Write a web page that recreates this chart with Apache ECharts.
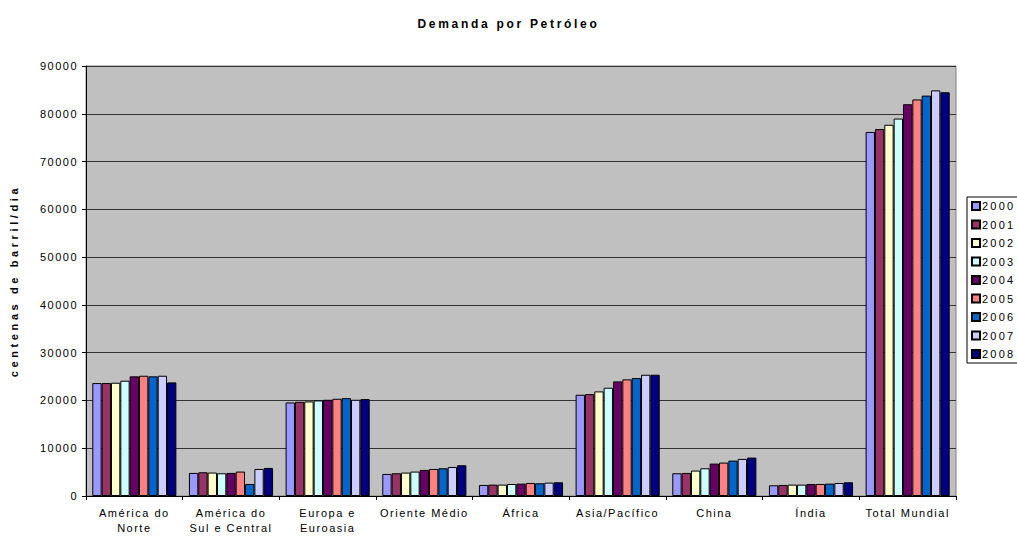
<!DOCTYPE html>
<html lang="pt">
<head>
    <meta charset="UTF-8">
    <title>Demanda por Petróleo</title>
    <script src="https://cdn.jsdelivr.net/npm/echarts@6/dist/echarts.min.js"></script>
    <style>
        html, body { margin: 0; padding: 0; background: #fff; }
        #chart { width: 1017px; height: 536px; }
        /* espaçamento entre letras como no original */
        #chart text { letter-spacing: 1.5px; }
        #chart text[style*="sans-serif"], #chart text[font-family*="sans-serif"] { letter-spacing: 2.2px; }
        #chart text[style*="Liberation"], #chart text[font-family*="Liberation"] { letter-spacing: 2.7px; }
        #chart text[style*="Helvetica"], #chart text[font-family*="Helvetica"] { letter-spacing: 3.6px; }
    </style>
</head>
<body>
<div id="chart"></div>
<script>
    // regiões (eixo x)
    var regioes = ['América do\nNorte', 'América do\nSul e Central', 'Europa e\nEuroasia', 'Oriente Médio',
        'África', 'Asia/Pacífico', 'China', 'Índia', 'Total Mundial'];
    var anos = ['2000', '2001', '2002', '2003', '2004', '2005', '2006', '2007', '2008'];
    var cores = ['#9999FF', '#993366', '#FFFFCC', '#CCFFFF', '#660066', '#FF8080', '#0066CC', '#CCCCFF', '#000080'];

    // demanda por ano, na ordem das regiões
    var d2000 = [23640, 4830, 19580, 4620, 2310, 21190, 4760, 2240, 76200];
    var d2001 = [23640, 4970, 19720, 4760, 2380, 21330, 4830, 2310, 76800];
    var d2002 = [23710, 4900, 19790, 4900, 2380, 21890, 5320, 2380, 77700];
    var d2003 = [24130, 4760, 20000, 5110, 2520, 22660, 5800, 2380, 79000];
    var d2004 = [25040, 4830, 20140, 5460, 2590, 23990, 6780, 2520, 82000];
    var d2005 = [25170, 5110, 20350, 5660, 2730, 24410, 6990, 2520, 83000];
    var d2006 = [25040, 2520, 20490, 5800, 2660, 24690, 7410, 2590, 83800];
    var d2007 = [25170, 5660, 20140, 6080, 2800, 25380, 7760, 2730, 84900];
    var d2008 = [23780, 5870, 20280, 6430, 2870, 25380, 8040, 2870, 84500];
    var dados = [d2000, d2001, d2002, d2003, d2004, d2005, d2006, d2007, d2008];

    var series = [];
    for (var i = 0; i < anos.length; i++) {
        series.push({
            name: anos[i],
            type: 'bar',
            barGap: '0%',
            barCategoryGap: '13%',
            itemStyle: { color: cores[i], borderColor: '#000', borderWidth: 1 },
            data: dados[i]
        });
    }

    var myChart = echarts.init(document.getElementById('chart'), null, { renderer: 'svg' });
    myChart.setOption({
        animation: false,
        backgroundColor: '#fff',
        title: {
            text: 'Demanda por Petróleo',
            left: 'center',
            top: 13,
            textStyle: { fontFamily: 'Liberation Sans', fontSize: 12, fontWeight: 'bold', color: '#000' }
        },
        legend: {
            data: anos,
            orient: 'vertical',
            left: 967,
            top: 197,
            padding: [3, 30, 3, 4],
            itemWidth: 8,
            itemHeight: 8,
            itemGap: 6.5,
            icon: 'rect',
            backgroundColor: '#fff',
            borderColor: '#000',
            borderWidth: 1,
            borderRadius: 0,
            textStyle: { fontFamily: 'Arial, sans-serif', fontSize: 11, color: '#000', lineHeight: 12, padding: [0, 0, 0, -3] }
        },
        grid: {
            left: 84,
            right: 61,
            top: 66,
            bottom: 40,
            show: true,
            backgroundColor: '#C0C0C0',
            borderColor: '#808080',
            borderWidth: 1
        },
        xAxis: {
            type: 'category',
            data: regioes,
            axisLine: { lineStyle: { color: '#000', width: 1 } },
            axisTick: { show: true, length: 4, lineStyle: { color: '#000' } },
            axisLabel: { fontFamily: 'Arial', fontSize: 11, color: '#000', margin: 9, lineHeight: 15, interval: 0 }
        },
        yAxis: {
            type: 'value',
            min: 0,
            max: 90000,
            interval: 10000,
            name: 'centenas de barril/dia',
            nameLocation: 'middle',
            nameGap: 67,
            nameTextStyle: { fontFamily: 'Liberation Sans, Helvetica', fontSize: 11, fontWeight: 'bold', color: '#000' },
            axisLine: { show: true, lineStyle: { color: '#000', width: 1 } },
            axisTick: { show: true, length: 4, lineStyle: { color: '#000' } },
            axisLabel: {
                fontFamily: 'Arial', fontSize: 11, color: '#000', margin: 8,
                formatter: function (v) { return String(v); }
            },
            splitLine: { lineStyle: { color: '#333', width: 1 } }
        },
        series: series
    });
</script>
</body>
</html>
